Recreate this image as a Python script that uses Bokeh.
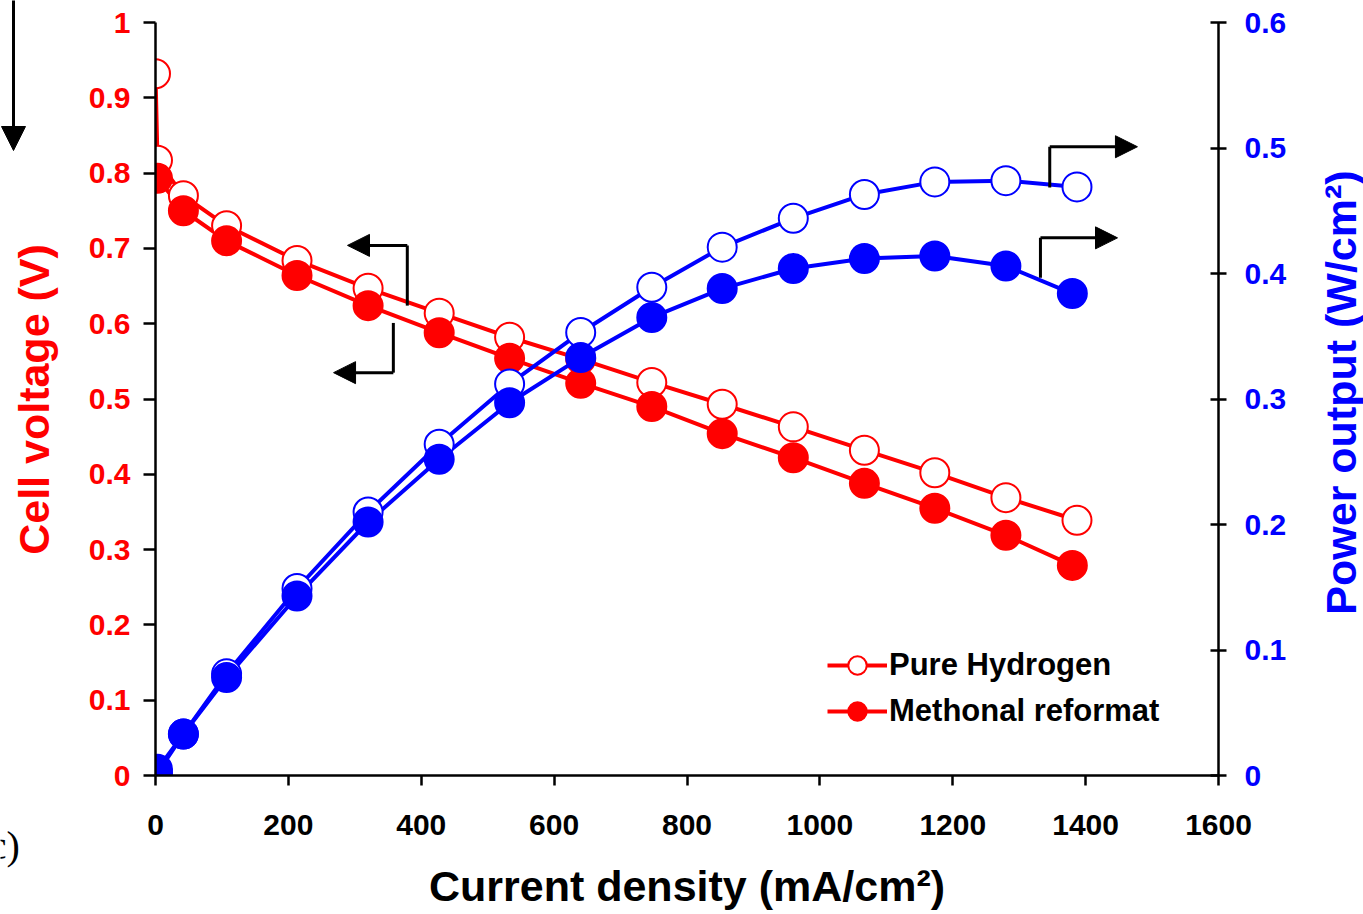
import math
from bokeh.plotting import figure
from bokeh.layouts import row
from bokeh.models import (Range1d, LinearAxis, Arrow, NormalHead, FixedTicker, Legend,
                          LegendItem, NumeralTickFormatter)
from bokeh.core.properties import value
from bokeh.embed import file_html
from bokeh.resources import INLINE

# ---- data ----
current_h2 = [0, 3, 42, 107, 213, 320, 427, 533, 640, 747, 853, 960, 1067, 1173, 1280, 1387]
voltage_h2 = [0.932, 0.817, 0.770, 0.730, 0.684, 0.647, 0.614, 0.582, 0.553, 0.522,
              0.493, 0.463, 0.432, 0.402, 0.369, 0.339]
current_me = [3, 42, 107, 213, 320, 427, 533, 640, 747, 853, 960, 1067, 1173, 1280, 1380]
voltage_me = [0.793, 0.750, 0.710, 0.664, 0.624, 0.588, 0.554, 0.521, 0.490, 0.454,
              0.422, 0.388, 0.355, 0.319, 0.279]
current_p_h2 = [3, 42, 107, 213, 320, 427, 533, 640, 747, 853, 960, 1067, 1173, 1280, 1387]
power_h2 = [0.002, 0.033, 0.081, 0.149, 0.210, 0.264, 0.312, 0.353, 0.389, 0.421,
            0.444, 0.463, 0.473, 0.474, 0.469]
current_p_me = [3, 42, 107, 213, 320, 427, 533, 640, 747, 853, 960, 1067, 1173, 1280, 1380]
power_me = [0.005, 0.033, 0.078, 0.143, 0.202, 0.252, 0.297, 0.333, 0.365, 0.388,
            0.404, 0.412, 0.414, 0.406, 0.384]
v_ticks = [0, 0.1, 0.2, 0.3, 0.4, 0.5, 0.6, 0.7, 0.8, 0.9, 1.0]
p_ticks = [0, 0.1, 0.2, 0.3, 0.4, 0.5, 0.6]
x_ticks = [0, 200, 400, 600, 800, 1000, 1200, 1400, 1600]
y_title = "Cell voltage (V)"
y2_title = "Power output (W/cm²)"
x_title = "Current density (mA/cm²)"

RED = "#FF0000"
BLUE = "#0000FF"
FONT = "Liberation Sans"
TITLE_SIZE = "43px"
H = 914


def strip(w):
    f = figure(width=w, height=H, output_backend="svg", toolbar_location=None,
               x_range=Range1d(0, w), y_range=Range1d(0, H), frame_align=False,
               min_border=0, min_border_left=0, min_border_right=0,
               min_border_top=0, min_border_bottom=0)
    f.axis.visible = False
    f.grid.visible = False
    f.outline_line_color = None
    return f


# ---- left strip: cut-off fragments of a neighbouring panel + y axis title ----
LW_STRIP = 60
left = strip(LW_STRIP)
left.add_layout(Arrow(x_start=13, y_start=H + 5, x_end=13, y_end=H - 150, line_width=3,
                      line_color="black",
                      end=NormalHead(size=24, fill_color="black", line_color="black")))
left.text(x=[-25], y=[H - 845], text=["(c)"], text_font=value("Liberation Serif"),
          text_font_size="40px", text_color="black", text_baseline="alphabetic")
left.text(x=[33], y=[H - 399], text=[y_title], angle=math.pi / 2,
          text_font=value(FONT), text_font_style="bold", text_font_size=TITLE_SIZE,
          text_color=RED, text_align="center", text_baseline="middle")

# ---- right strip: secondary y axis title ----
RW_STRIP = 63
right = strip(RW_STRIP)
right.text(x=[40], y=[H - 392], text=[y2_title], angle=math.pi / 2,
           text_font=value(FONT), text_font_style="bold", text_font_size=TITLE_SIZE,
           text_color=BLUE, text_align="center", text_baseline="middle")

# ---- main chart ----
MAIN_W = 1363 - LW_STRIP - RW_STRIP
p = figure(frame_width=1063, frame_height=753, output_backend="svg", toolbar_location=None,
           x_range=Range1d(0, 1600), y_range=Range1d(0, 1), frame_align=False,
           min_border_left=155 - LW_STRIP, min_border_right=MAIN_W - 1063 - (155 - LW_STRIP),
           min_border_top=22, min_border_bottom=139,
           background_fill_color="white", border_fill_color="white")
p.outline_line_color = None
p.grid.visible = False
p.extra_y_ranges = {"power": Range1d(0, 0.6)}


def style_axis(ax, color, tin, tout, standoff):
    ax.axis_line_color = "black"
    ax.axis_line_width = 2.5
    ax.major_tick_line_color = "black"
    ax.major_tick_line_width = 2.5
    ax.major_tick_in = tin
    ax.major_tick_out = tout
    ax.minor_tick_line_color = None
    ax.major_label_text_font = FONT
    ax.major_label_text_font_style = "bold"
    ax.major_label_text_font_size = "30px"
    ax.major_label_text_color = color
    ax.major_label_standoff = standoff
    ax.axis_label_text_font = FONT
    ax.axis_label_text_font_style = "bold"
    ax.axis_label_text_font_size = TITLE_SIZE
    ax.axis_label_text_color = color


# left
style_axis(p.yaxis[0], RED, 0, 12, 13)
p.yaxis[0].ticker = FixedTicker(ticks=v_ticks)
p.yaxis[0].formatter = NumeralTickFormatter(format="0.[0]")

# bottom
style_axis(p.xaxis[0], "black", 0, 10, 29)
p.xaxis[0].ticker = FixedTicker(ticks=x_ticks)
p.xaxis[0].axis_label = x_title
p.xaxis[0].axis_label_standoff = 24

# right
rax = LinearAxis(y_range_name="power")
style_axis(rax, BLUE, 8, 8, 18)
rax.ticker = FixedTicker(ticks=p_ticks)
rax.formatter = NumeralTickFormatter(format="0.[0]")
p.add_layout(rax, "right")

MS = 29
LW = 4
# voltage curves
l_h2 = p.line(current_h2, voltage_h2, line_color=RED, line_width=LW)
l_me = p.line(current_me, voltage_me, line_color=RED, line_width=LW)
s_h2 = p.scatter(current_h2, voltage_h2, size=MS, marker="circle", fill_color="white",
                 line_color=RED, line_width=2)
s_me = p.scatter(current_me, voltage_me, size=MS, marker="circle", fill_color=RED,
                 line_color=RED, line_width=2)
# power curves
p.line(current_p_h2, power_h2, line_color=BLUE, line_width=LW, y_range_name="power")
p.line(current_p_me, power_me, line_color=BLUE, line_width=LW, y_range_name="power")
p.scatter(current_p_h2, power_h2, size=MS, marker="circle", fill_color="white",
          line_color=BLUE, line_width=2, y_range_name="power")
p.scatter(current_p_me, power_me, size=MS, marker="circle", fill_color=BLUE,
          line_color=BLUE, line_width=2, y_range_name="power")

# legend
legend = Legend(items=[LegendItem(label="Pure Hydrogen", renderers=[l_h2, s_h2]),
                       LegendItem(label="Methonal reformat", renderers=[l_me, s_me])],
                location=(672, 41), orientation="vertical")
legend.background_fill_alpha = 0
legend.border_line_color = None
legend.padding = 0
legend.margin = 0
legend.spacing = 0
legend.glyph_width = 60
legend.glyph_height = 46
legend.label_standoff = 2
legend.label_text_font = FONT
legend.label_text_font_style = "bold"
legend.label_text_font_size = "31px"
legend.label_text_color = "black"
p.add_layout(legend, "center")


# pointer arrows (annotations)
def elbow(xv, y0, y1, xtip):
    p.line([xv, xv], [y0, y1], line_color="black", line_width=3)
    p.add_layout(Arrow(x_start=xv, y_start=y1, x_end=xtip, y_end=y1, line_width=3,
                       line_color="black",
                       end=NormalHead(size=22, fill_color="black", line_color="black")))


elbow(379, 0.624, 0.704, 289)
elbow(358, 0.601, 0.535, 268)
elbow(1346, 0.781, 0.835, 1478)
elbow(1332, 0.661, 0.714, 1448)

layout = row(left, p, right, spacing=0)
open("out.html", "w").write(file_html(layout, INLINE))
